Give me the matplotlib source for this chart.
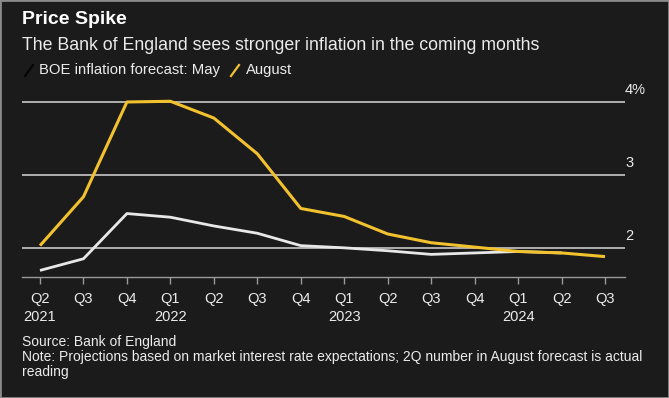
import matplotlib
matplotlib.use("Agg")
import matplotlib.pyplot as plt
from matplotlib.lines import Line2D
from matplotlib.patches import Rectangle

plt.rcParams['font.family'] = ['Liberation Sans', 'DejaVu Sans']

quarters = ["Q2", "Q3", "Q4", "Q1", "Q2", "Q3", "Q4", "Q1", "Q2", "Q3", "Q4", "Q1", "Q2", "Q3"]
years = ["2021", "", "", "2022", "", "", "", "2023", "", "", "", "2024", "", ""]
august = [2.03, 2.70, 4.00, 4.01, 3.78, 3.29, 2.54, 2.43, 2.19, 2.07, 2.01, 1.95, 1.93, 1.88]
may = [1.69, 1.85, 2.47, 2.42, 2.30, 2.20, 2.03, 2.00, 1.96, 1.91, 1.93, 1.95, 1.93]
grid_values = [2, 3, 4]
grid_labels = ["2", "3", "4%"]

BG = "#1b1b1b"
YELLOW = "#f2c12e"
WHITE = "#e8e8e8"
GRID = "#c8c8c8"
TXT = "#ececec"

W, H = 669, 398
fig = plt.figure(figsize=(W / 100, H / 100), dpi=100, facecolor=BG)

def fx(px):
    return px / W

def fy(py):
    return 1 - py / H

ax_left, ax_right = 22, 625
ax_top, ax_bottom = 94.7, 277
ax = fig.add_axes([fx(ax_left), fy(ax_bottom), fx(ax_right - ax_left), (ax_bottom - ax_top) / H])
ax.set_facecolor(BG)

x = list(range(len(quarters)))
ax.set_xlim(-0.414, 13.46)
ax.set_ylim(1.6, 4.1)

for v in grid_values:
    ax.axhline(v, color=GRID, lw=1.2, zorder=1)
for v, lab in zip(grid_values, grid_labels):
    ax.annotate(lab, xy=(1.0, v), xycoords=ax.get_yaxis_transform(),
                xytext=(0, 3.5), textcoords="offset points",
                ha="left", va="bottom", color=TXT, fontsize=10.5)

ax.plot(x[:len(may)], may, color=WHITE, lw=2.0, zorder=3, solid_capstyle="butt")
ax.plot(x, august, color=YELLOW, lw=2.2, zorder=4, solid_capstyle="butt")

for s in ["top", "right", "left"]:
    ax.spines[s].set_visible(False)
ax.spines["bottom"].set_color("#9a9a9a")
ax.spines["bottom"].set_linewidth(1.0)
ax.set_yticks([])
ax.set_xticks(x)
ax.set_xticklabels([q + ("\n" + y if y else "") for q, y in zip(quarters, years)],
                   linespacing=1.35)
ax.tick_params(axis="x", direction="out", length=5, width=1, color="#9a9a9a",
               labelcolor=TXT, labelsize=10.5, pad=6)

fig.text(fx(22), fy(20), "Price Spike", color="white", fontsize=14, fontweight="bold",
         ha="left", va="center")
fig.text(fx(22), fy(45), "The Bank of England sees stronger inflation in the coming months",
         color=TXT, fontsize=12.8, ha="left", va="center")

# legend
fig.add_artist(Line2D([fx(25), fx(33)], [fy(76), fy(65)], color="#050505", lw=1.6))
fig.text(fx(39), fy(70), "BOE inflation forecast: May", color=TXT, fontsize=10.7,
         ha="left", va="center")
fig.add_artist(Line2D([fx(231), fx(239)], [fy(76), fy(65)], color=YELLOW, lw=1.6))
fig.text(fx(246), fy(70), "August", color=TXT, fontsize=10.7, ha="left", va="center")

fig.text(fx(22), fy(342), "Source: Bank of England", color=TXT, fontsize=10,
         ha="left", va="center")
fig.text(fx(22), fy(357),
         "Note: Projections based on market interest rate expectations; 2Q number in August forecast is actual",
         color=TXT, fontsize=10, ha="left", va="center")
fig.text(fx(22), fy(372), "reading", color=TXT, fontsize=10, ha="left", va="center")

fig.add_artist(Rectangle((0, 0), 1, 1, transform=fig.transFigure, fill=False,
                         edgecolor="#8a8a8a", lw=2))

fig.savefig("out.png", dpi=100, facecolor=BG)
